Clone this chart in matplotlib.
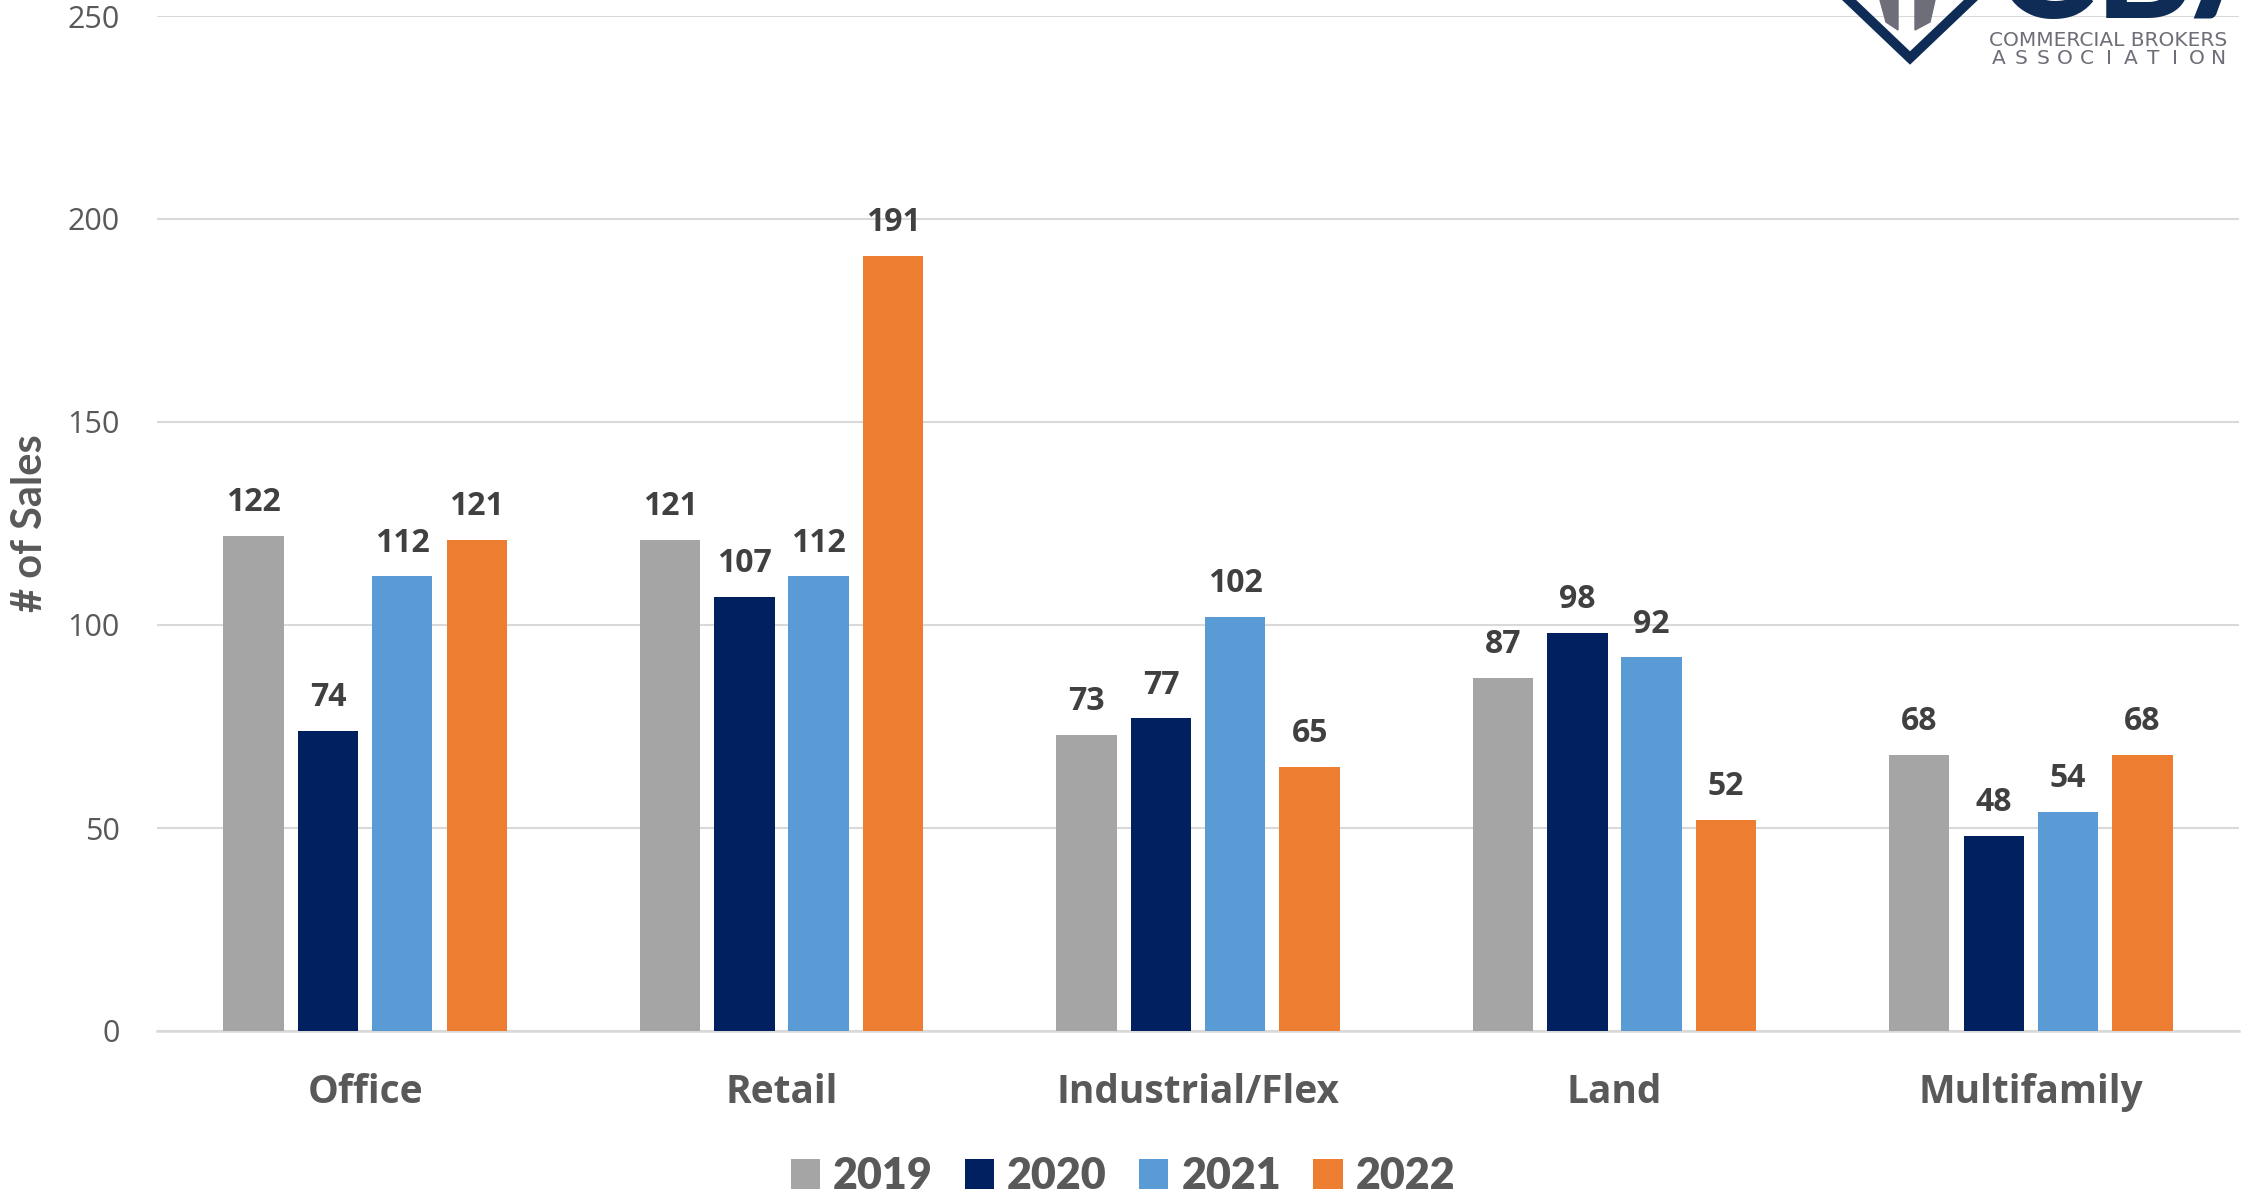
import numpy as np
import matplotlib.pyplot as plt
from matplotlib.lines import Line2D
from matplotlib.patches import Polygon

categories = ["Office", "Retail", "Industrial/Flex", "Land", "Multifamily"]
years = ["2019", "2020", "2021", "2022"]
sales_2019 = [122, 121, 73, 87, 68]
sales_2020 = [74, 107, 77, 98, 48]
sales_2021 = [112, 112, 102, 92, 54]
sales_2022 = [121, 191, 65, 52, 68]
yticks = [0, 50, 100, 150, 200, 250]

series = [sales_2019, sales_2020, sales_2021, sales_2022]
colors = ["#A5A5A5", "#002060", "#5B9BD5", "#ED7D31"]

W, H = 2243, 1198
fig = plt.figure(figsize=(W / 100, H / 100), dpi=100)
ax = fig.add_axes([157 / W, 1 - 1031 / H, (2239 - 157) / W, (1031 - 16) / H])

x = np.arange(len(categories))
width = 0.145
offsets = [-0.268, -0.089, 0.089, 0.268]

for vals, col, off, yr in zip(series, colors, offsets, years):
    bars = ax.bar(x + off, vals, width, color=col, label=yr, zorder=3)
    for b, v in zip(bars, vals):
        ax.annotate(str(v), (b.get_x() + b.get_width() / 2, v),
                    xytext=(0, 12), textcoords="offset points",
                    ha="center", va="bottom", fontsize=23,
                    fontweight="bold", color="#404040", family="Open Sans")

ax.set_xlim(-0.5, len(categories) - 0.5)
ax.set_ylim(0, 250)
ax.set_yticks(yticks)
ax.set_yticklabels([str(t) for t in yticks], fontsize=22, color="#595959", family="Open Sans")
ax.set_xticks(x)
ax.set_xticklabels(categories, fontsize=28, fontweight="bold", color="#595959", family="Open Sans")
ax.tick_params(axis="y", length=0, pad=27)
ax.tick_params(axis="x", length=0, pad=30)
ax.grid(axis="y", color="#D9D9D9", linewidth=1.5, zorder=0)
for s in ["top", "right", "left"]:
    ax.spines[s].set_visible(False)
ax.spines["bottom"].set_color("#D9D9D9")
ax.spines["bottom"].set_linewidth(1.8)

fig.text(30 / W, 1 - 523 / H, "# of Sales", rotation=90, ha="center", va="center",
         fontsize=30, fontweight="bold", color="#595959", family="Lato")

leg = ax.legend(loc="center", bbox_to_anchor=(1123 / W, 1 - 1176 / H),
                bbox_transform=fig.transFigure, ncol=4, frameon=False,
                handlelength=0.68, handleheight=0.68, handletextpad=0.3,
                columnspacing=0.75, prop={"family": "Lato", "size": 31})
for t in leg.get_texts():
    t.set_color("#595959")
    t.set_fontweight("heavy")

# logo, cropped at top edge
def px(xp, yp):
    return (xp / W, 1 - yp / H)

navy = "#0E2C55"
logo_gray = "#6D6E78"
fig.add_artist(Polygon([px(1880, 0), px(1898, 0), px(1898, 30), px(1886, 22)],
                       closed=True, color=logo_gray, transform=fig.transFigure))
fig.add_artist(Polygon([px(1915, 0), px(1935, 0), px(1930, 22), px(1915, 30)],
                       closed=True, color=logo_gray, transform=fig.transFigure))
xs, ys = zip(px(1847, -2), px(1910, 58), px(1973, -2))
fig.add_artist(Line2D(xs, ys, color=navy, linewidth=7, solid_joinstyle="miter",
                      transform=fig.transFigure))
fig.text(1993 / W, 1 - 18 / H, "CBA", ha="left", va="baseline", fontsize=110,
         fontweight="bold", color=navy, family="Lato")
fig.text(2108 / W, 1 - 41 / H, "COMMERCIAL BROKERS", ha="center", va="center",
         fontsize=14.5, color=logo_gray, family="DejaVu Sans")
for i, ch in enumerate("ASSOCIATION"):
    fig.text((1999 + i * 22) / W, 1 - 59 / H, ch, ha="center", va="center",
             fontsize=14.5, color=logo_gray, family="DejaVu Sans")

fig.savefig("out.png", dpi=100)
